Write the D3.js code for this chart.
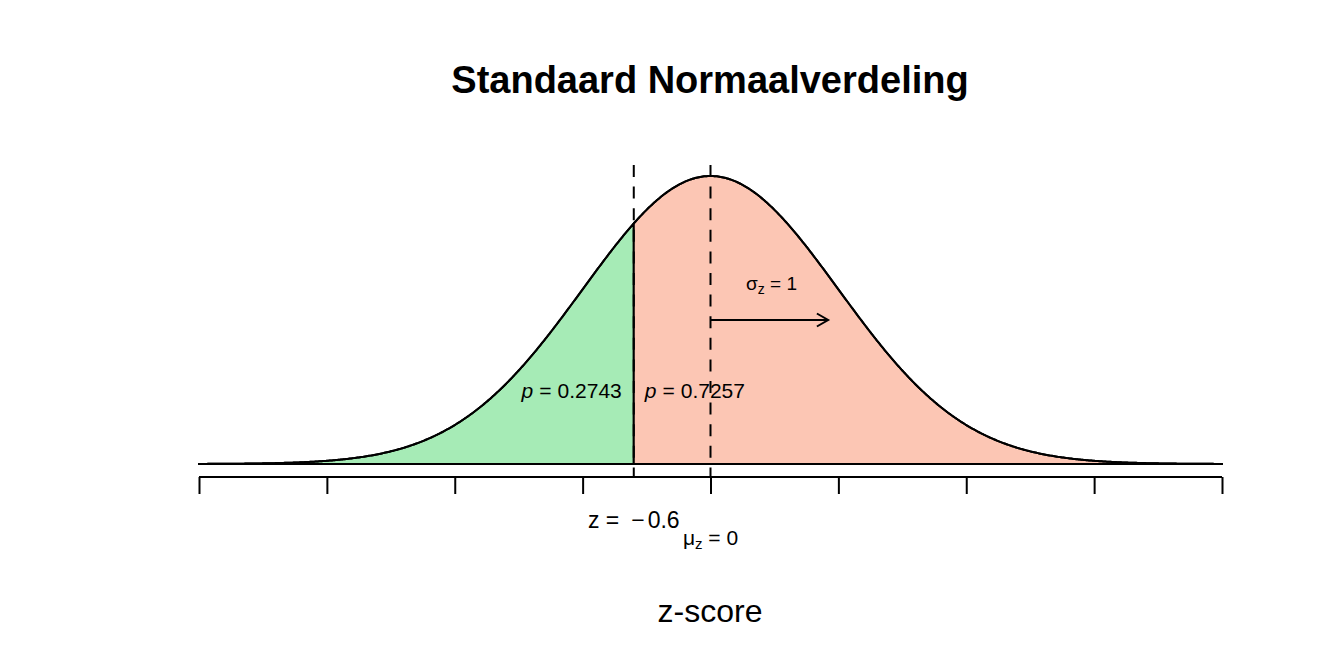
<!DOCTYPE html>
<html>
<head>
<meta charset="utf-8">
<script src="https://cdn.jsdelivr.net/npm/d3@7.9.0/dist/d3.min.js"></script>
<style>
  html, body { margin: 0; padding: 0; background: #fff; }
  svg { display: block; font-family: "Liberation Sans", Arial, sans-serif; }
</style>
</head>
<body>
<svg id="chart" width="1344" height="672"></svg>
<script>
// distribution + annotation values
const zRange = [-4, 4];
const tickValues = [-4, -3, -2, -1, 0, 1, 2, 3, 4];
const mu = 0;
const sigma = 1;
const zCut = -0.6;
const pLeft = 0.2743;
const pRight = 0.7257;
const titleText = 'Standaard Normaalverdeling';
const xLabel = 'z-score';

const svg = d3.select('#chart');

const x = d3.scaleLinear().domain(zRange).range([199, 1222]);
const dnorm = (z) => Math.exp(-0.5 * ((z - mu) / sigma) ** 2) / (sigma * Math.sqrt(2 * Math.PI));
const y = d3.scaleLinear().domain([0, dnorm(mu)]).range([464, 176]);

const step = 0.01;
const curve = d3.range(zRange[0], zRange[1] + step / 2, step).map((z) => [z, dnorm(z)]);
const leftPart = curve.filter((d) => d[0] <= zCut).concat([[zCut, dnorm(zCut)]]);
const rightPart = [[zCut, dnorm(zCut)]].concat(curve.filter((d) => d[0] > zCut));

const line = d3.line().x((d) => x(d[0])).y((d) => y(d[1]));
const polygon = (pts) => line([[pts[0][0], 0], ...pts, [pts[pts.length - 1][0], 0]]) + 'Z';

svg.append('path')
  .attr('d', polygon(leftPart))
  .attr('fill', '#a6ebb6')
  .attr('stroke', '#000')
  .attr('stroke-width', 2);

svg.append('path')
  .attr('d', polygon(rightPart))
  .attr('fill', '#fcc6b4')
  .attr('stroke', '#000')
  .attr('stroke-width', 2);

svg.append('path')
  .attr('d', line(curve))
  .attr('fill', 'none')
  .attr('stroke', '#000')
  .attr('stroke-width', 2);

// axis
const axisY = 477;
const axis = svg.append('g')
  .attr('transform', `translate(0,${axisY})`)
  .call(d3.axisBottom(x).tickValues(tickValues).tickSize(17).tickFormat(''));
axis.select('.domain').attr('d', `M${x(zRange[0])},0H${x(zRange[1])}`).attr('stroke-width', 2);
axis.selectAll('.tick line').attr('stroke-width', 2);

// dashed reference lines
[zCut, mu].forEach((v) => {
  svg.append('line')
    .attr('x1', x(v)).attr('x2', x(v))
    .attr('y1', y(0.4142)).attr('y2', axisY)
    .attr('stroke', '#000')
    .attr('stroke-width', 2)
    .attr('stroke-dasharray', '12,9.6');
});

// sigma arrow
const arrowY = 320;
const x0 = x(mu), x1 = x(mu + sigma * 0.92);
svg.append('line')
  .attr('x1', x0).attr('x2', x1)
  .attr('y1', arrowY).attr('y2', arrowY)
  .attr('stroke', '#000').attr('stroke-width', 2);
const hl = 13, ang = Math.PI / 6;
svg.append('path')
  .attr('d', `M${x1 - hl * Math.cos(ang)},${arrowY - hl * Math.sin(ang)}L${x1},${arrowY}L${x1 - hl * Math.cos(ang)},${arrowY + hl * Math.sin(ang)}`)
  .attr('fill', 'none').attr('stroke', '#000').attr('stroke-width', 2);

// title + axis label
svg.append('text')
  .attr('x', 710).attr('y', 93)
  .attr('text-anchor', 'middle')
  .attr('font-size', 38).attr('font-weight', 'bold')
  .text(titleText);

svg.append('text')
  .attr('x', 710).attr('y', 622)
  .attr('text-anchor', 'middle')
  .attr('font-size', 32)
  .text(xLabel);

// p labels
const pl = svg.append('text')
  .attr('x', x(zCut) - 12).attr('y', 398)
  .attr('text-anchor', 'end').attr('font-size', 21);
pl.append('tspan').attr('font-style', 'italic').text('p');
pl.append('tspan').attr('dx', 6).text('=');
pl.append('tspan').attr('dx', 6).text(String(pLeft));

const pr = svg.append('text')
  .attr('x', x(zCut) + 11).attr('y', 398)
  .attr('font-size', 21);
pr.append('tspan').attr('font-style', 'italic').text('p');
pr.append('tspan').attr('dx', 6).text('=');
pr.append('tspan').attr('dx', 6).text(String(pRight));

// sigma label
const sl = svg.append('text')
  .attr('x', 746).attr('y', 290).attr('font-size', 19);
sl.append('tspan').text('\u03c3');
sl.append('tspan').attr('font-size', 14).attr('dy', 4).text('z');
sl.append('tspan').attr('dy', -4).text(` = ${sigma}`);

// z label
const zl = svg.append('text')
  .attr('x', x(zCut)).attr('y', 528)
  .attr('text-anchor', 'middle').attr('font-size', 23);
zl.append('tspan').text('z =');
zl.append('tspan').attr('dx', 12).text('\u2212');
zl.append('tspan').attr('dx', 3).text(String(Math.abs(zCut)));

// mu label
const ml = svg.append('text')
  .attr('x', x(mu)).attr('y', 545)
  .attr('text-anchor', 'middle').attr('font-size', 21);
ml.append('tspan').text('\u03bc');
ml.append('tspan').attr('font-size', 15).attr('dy', 4).text('z');
ml.append('tspan').attr('dy', -4).text(` = ${mu}`);
</script>
</body>
</html>
